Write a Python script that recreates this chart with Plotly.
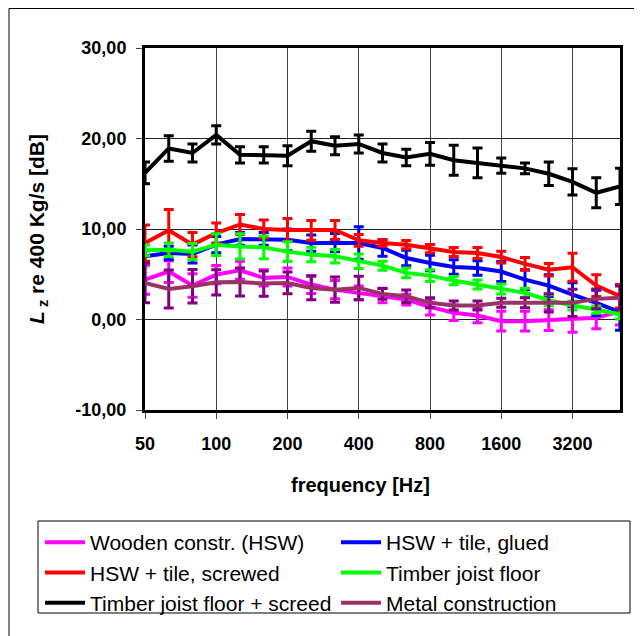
import plotly.graph_objects as go

freqs = ["50", "63", "80", "100", "125", "160", "200", "250", "315", "400", "500",
         "630", "800", "1000", "1250", "1600", "2000", "2500", "3150", "4000", "5000"]
tick_labels = ["50", "100", "200", "400", "800", "1600", "3200"]
tick_cats = ["50", "100", "200", "400", "800", "1600", "3150"]
y_tick_vals = [-10, 0, 10, 20, 30]
y_tick_labels = ["-10,00", "0,00", "10,00", "20,00", "30,00"]

wooden = [4.4, 5.3, 3.75, 4.96, 5.44, 4.6, 4.7, 3.86, 3.3, 2.94, 2.65, 2.2, 1.4, 0.74, 0.44,
          -0.18, -0.18, -0.07, 0.0, 0.18, 0.9]
wooden_err = [1.6, 1.2, 1.3, 1.0, 1.0, 0.9, 1.0, 1.0, 1.0, 0.75, 0.8, 0.6, 0.9, 0.85, 0.8,
              1.1, 1.1, 1.15, 1.4, 1.2, 1.5]

glued = [7.0, 7.35, 7.24, 8.27, 8.9, 8.9, 8.8, 8.45, 8.5, 8.45, 7.9, 6.8, 6.25, 5.8, 5.7,
         5.3, 4.4, 3.75, 2.76, 1.84, 0.8]
glued_err = [0.6, 0.75, 1.0, 0.9, 0.7, 0.7, 1.2, 0.9, 1.0, 1.8, 0.9, 0.85, 0.85, 0.8, 0.8,
             1.1, 1.1, 1.2, 1.3, 1.4, 2.0]

screwed = [8.45, 9.85, 8.27, 9.55, 10.5, 10.0, 9.9, 9.85, 9.9, 8.75, 8.45, 8.27, 7.83, 7.46,
           7.35, 6.9, 6.14, 5.5, 5.77, 3.75, 2.57]
screwed_err = [2.0, 2.3, 1.35, 1.1, 1.1, 1.0, 1.25, 1.1, 1.05, 0.65, 0.35, 0.45, 0.45, 0.5,
               0.6, 0.65, 0.7, 0.7, 1.55, 1.2, 1.3]

timber = [7.64, 7.7, 7.5, 8.27, 8.08, 7.97, 7.5, 7.17, 6.98, 6.43, 5.95, 5.15, 4.85, 4.3,
          3.86, 3.38, 2.94, 2.13, 1.54, 1.1, 0.55]
timber_err = [0.6, 0.75, 0.9, 1.2, 1.4, 1.25, 1.1, 0.8, 0.75, 0.8, 0.5, 0.55, 0.65, 0.45,
              0.5, 0.55, 0.5, 0.6, 0.5, 0.4, 0.5]

screed = [16.2, 18.9, 18.4, 20.4, 18.2, 18.2, 18.1, 19.7, 19.2, 19.4, 18.4, 17.9, 18.3, 17.6,
          17.3, 17.0, 16.7, 16.1, 15.2, 14.0, 14.7]
screed_err = [1.2, 1.4, 1.0, 1.0, 0.9, 0.9, 1.1, 1.1, 1.0, 1.0, 1.0, 0.9, 1.25, 1.65, 1.65,
              0.85, 0.6, 1.3, 1.45, 1.65, 2.0]

metal = [4.04, 3.38, 3.67, 4.11, 4.15, 3.97, 4.04, 3.49, 3.3, 3.49, 2.83, 2.57, 1.84, 1.54,
         1.54, 1.84, 1.84, 1.84, 1.84, 2.28, 2.39]
metal_err = [2.2, 2.1, 1.85, 1.4, 1.55, 1.4, 1.2, 1.3, 1.4, 1.3, 0.6, 0.7, 0.55, 0.5, 0.5,
             0.5, 0.55, 1.0, 1.5, 1.1, 1.3]

series = [
    ("Wooden constr. (HSW)", wooden, wooden_err, "#FF00FF", "#FF00FF"),
    ("HSW + tile, glued", glued, glued_err, "#0000FF", "#0000FF"),
    ("HSW + tile, screwed", screwed, screwed_err, "#FF0000", "#FF0000"),
    ("Timber joist floor", timber, timber_err, "#00FF00", "#00FF00"),
    ("Timber joist floor + screed", screed, screed_err, "#000000", "#000000"),
    ("Metal construction", metal, metal_err, "#993366", "#800080"),
]

fig = go.Figure()
for name, vals, errs, col, ecol in series:
    fig.add_trace(go.Scatter(
        x=freqs, y=vals, name=name, mode="lines",
        line=dict(color=col, width=4),
        error_y=dict(type="data", array=errs, visible=True, color=ecol,
                     thickness=3, width=5),
    ))

font_family = "Liberation Sans, Arial, sans-serif"

# page body has an 8px margin; figure coordinates = window coordinates - 8
# plot area in figure px: x 137..612, y 40..402
PL, PW, PB, PH = 137.0, 475.0, 402.0, 362.0
def px(x):
    return (x - PL) / PW
def py(y):
    return (PB - y) / PH

fig.update_layout(
    width=634, height=628,
    margin=dict(l=137, r=22, t=40, b=226, autoexpand=False),
    paper_bgcolor="white", plot_bgcolor="white",
    font=dict(family=font_family, color="black"),
    showlegend=True,
    legend=dict(
        orientation="h", x=px(32), xanchor="left", y=py(514), yanchor="top",
        entrywidth=241, entrywidthmode="pixels",
        borderwidth=0, bgcolor="rgba(0,0,0,0)",
        font=dict(size=21, family=font_family), traceorder="normal",
        tracegroupgap=0, itemwidth=40,
    ),
    xaxis=dict(
        type="category", categoryorder="array", categoryarray=freqs,
        range=[0, 20],
        tickmode="array", tickvals=tick_cats, ticktext=tick_labels,
        showgrid=True, gridcolor="#444444", gridwidth=1,
        showline=True, linecolor="black", linewidth=3, mirror=True,
        ticks="outside", ticklen=6, tickcolor="#444444",
        ticklabelstandoff=9,
        tickfont=dict(size=18, family=font_family, weight="bold"),
        zeroline=False,
    ),
    yaxis=dict(
        range=[-10, 30],
        tickmode="array", tickvals=y_tick_vals, ticktext=y_tick_labels,
        showgrid=True, gridcolor="#222222", gridwidth=1,
        showline=True, linecolor="black", linewidth=3, mirror=True,
        ticks="outside", ticklen=6, tickcolor="#444444",
        ticklabelstandoff=6,
        tickfont=dict(size=18, family=font_family, weight="bold"),
        title=dict(text="<b><i>L</i><sub> z</sub> re 400 Kg/s [dB]</b>", font=dict(size=21),
                   standoff=26),
        zeroline=False,
    ),
    annotations=[
        dict(text="<b>frequency [Hz]</b>", xref="paper", yref="paper",
             x=px(352), y=py(477), xanchor="center", yanchor="middle",
             showarrow=False, font=dict(size=20, family=font_family, color="black")),
    ],
    shapes=[
        dict(type="rect", xref="paper", yref="paper",
             x0=px(1), x1=1.3, y0=-0.8, y1=py(0.5),
             line=dict(color="black", width=1), fillcolor="rgba(0,0,0,0)", layer="below"),
        dict(type="rect", xref="paper", yref="paper",
             x0=px(30), x1=px(622), y0=py(605), y1=py(513),
             line=dict(color="black", width=1), fillcolor="rgba(0,0,0,0)", layer="below"),
    ],
)

fig.write_html("out.html")
